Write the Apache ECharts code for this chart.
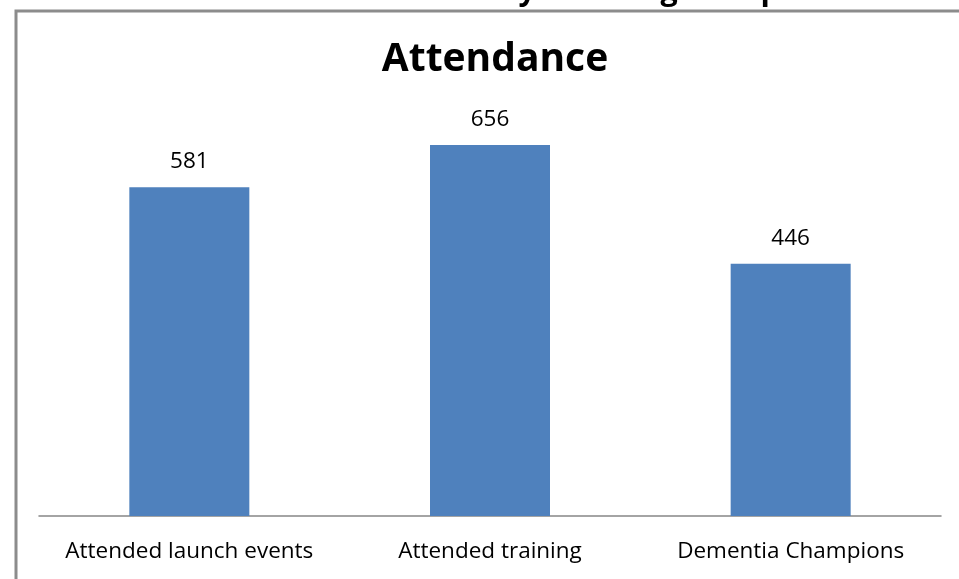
<!DOCTYPE html>
<html>
<head>
<meta charset="utf-8">
<script src="https://cdn.jsdelivr.net/npm/echarts@6/dist/echarts.min.js"></script>
<style>html,body{margin:0;padding:0;background:#fff}#c{width:959px;height:579px}</style>
</head>
<body>
<div id="c"></div>
<script>
var categories = ['Attended launch events', 'Attended training', 'Dementia Champions'];
var values = [581, 656, 446];
var chartTitle = 'Attendance';
var pageHeading = 'Chart 6: Attendance at Community Learning Groups';

var chart = echarts.init(document.getElementById('c'));
chart.setOption({
  animation: false,
  backgroundColor: '#fff',
  title: {
    text: chartTitle,
    left: 490, top: 35, textAlign: 'center',
    textStyle: { fontFamily: 'Open Sans', fontWeight: 'bold', fontSize: 39, color: '#000' }
  },
  graphic: [
    { type: 'rect', shape: { x: 16, y: 11, width: 960, height: 600 },
      style: { fill: 'none', stroke: '#8c8c8c', lineWidth: 3 } },
    { type: 'text', left: 6, top: -24,
      style: { text: pageHeading, fontFamily: 'Open Sans', fontWeight: 'bold', fontSize: 30.5, fill: '#000' } }
  ],
  grid: { left: 39, right: 18, top: 120, bottom: 63 },
  xAxis: {
    type: 'category', data: categories,
    axisLine: { lineStyle: { color: '#868686', width: 1.5 } },
    axisTick: { show: false },
    axisLabel: { interval: 0, color: '#000', fontFamily: 'Open Sans', fontSize: 22.5, margin: 24 }
  },
  yAxis: {
    type: 'value', min: 0, max: 700, interval: 100, show: false,
    splitLine: { show: false }
  },
  series: [{
    type: 'bar', data: values, barWidth: 120,
    itemStyle: { color: '#4f81bd' },
    label: { show: true, position: 'top', distance: 14, color: '#000', fontFamily: 'Open Sans', fontSize: 22.5 }
  }]
});
</script>
</body>
</html>
